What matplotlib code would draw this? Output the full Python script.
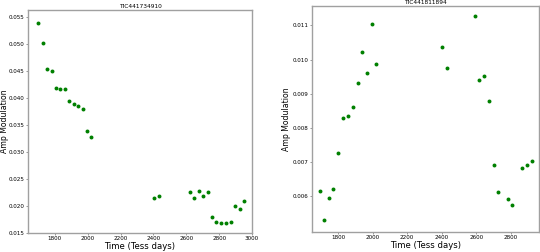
import matplotlib
matplotlib.use("Agg")
import matplotlib.pyplot as plt

# TIC441734910
time_a = [1699, 1727, 1754, 1780, 1806, 1831, 1859, 1886, 1915, 1942, 1969, 1996, 2022,
          2404, 2431,
          2622, 2649, 2677, 2703, 2730, 2757, 2783, 2811, 2840, 2870, 2898, 2925, 2953]
amp_a = [0.0539, 0.0502, 0.0454, 0.0450, 0.0419, 0.0416, 0.0417, 0.0394, 0.0388, 0.0386, 0.0380, 0.0339, 0.0328,
         0.0214, 0.0218,
         0.0225, 0.0214, 0.0228, 0.0218, 0.0226, 0.0179, 0.0170, 0.0168, 0.0168, 0.0171, 0.0200, 0.0195, 0.0210]

# TIC441811894
time_b = [1694, 1721, 1748, 1774, 1801, 1830, 1858, 1885, 1913, 1941, 1967, 1994, 2020,
          2402, 2430,
          2590, 2617, 2644, 2671, 2700, 2727, 2780, 2808, 2865, 2893, 2921]
amp_b = [0.00615, 0.00531, 0.00596, 0.00622, 0.00727, 0.00830, 0.00834, 0.00862, 0.00933, 0.01022, 0.00962, 0.01105, 0.00987,
         0.01037, 0.00975,
         0.01127, 0.00942, 0.00952, 0.00880, 0.00692, 0.00613, 0.00592, 0.00576, 0.00682, 0.00693, 0.00703]

titles = ["TIC441734910", "TIC441811894"]

fig = plt.figure(figsize=(5.4, 2.52), dpi=100)
ax1 = fig.add_axes([0.0519, 0.0754, 0.4148, 0.885])
ax2 = fig.add_axes([0.5778, 0.0794, 0.4204, 0.8968])

for ax, t, a, title in zip([ax1, ax2], [time_a, time_b], [amp_a, amp_b], titles):
    ax.scatter(t, a, s=8, color="green", linewidths=0)
    ax.set_title(title, fontsize=4.2, pad=1.5)
    ax.set_xlabel("Time (Tess days)", fontsize=6.1, labelpad=0.5)
    ax.set_ylabel("Amp Modulation", fontsize=5.6)
    ax.tick_params(labelsize=4.1, length=1.5, width=0.6, color="#888888", pad=0.8)
    for sp in ax.spines.values():
        sp.set_color("#a0a0a0")
        sp.set_linewidth(1.0)

# labels sit tight against the tick labels
ax1.yaxis.set_label_coords(-0.087, 0.5)
ax2.yaxis.set_label_coords(-0.092, 0.5)

ax1.set_xticks([1800, 2000, 2200, 2400, 2600, 2800, 3000])
ax1.set_yticks([0.015, 0.020, 0.025, 0.030, 0.035, 0.040, 0.045, 0.050, 0.055])
ax1.set_ylim(0.015, 0.0563)
ax1.set_xlim(1637, 3000)

ax2.set_xticks([1800, 2000, 2200, 2400, 2600, 2800])
ax2.set_yticks([0.006, 0.007, 0.008, 0.009, 0.010, 0.011])
ax2.set_xlim(1650, 2962)
ax2.set_ylim(0.00496, 0.01157)

fig.savefig("out.png", dpi=100)
